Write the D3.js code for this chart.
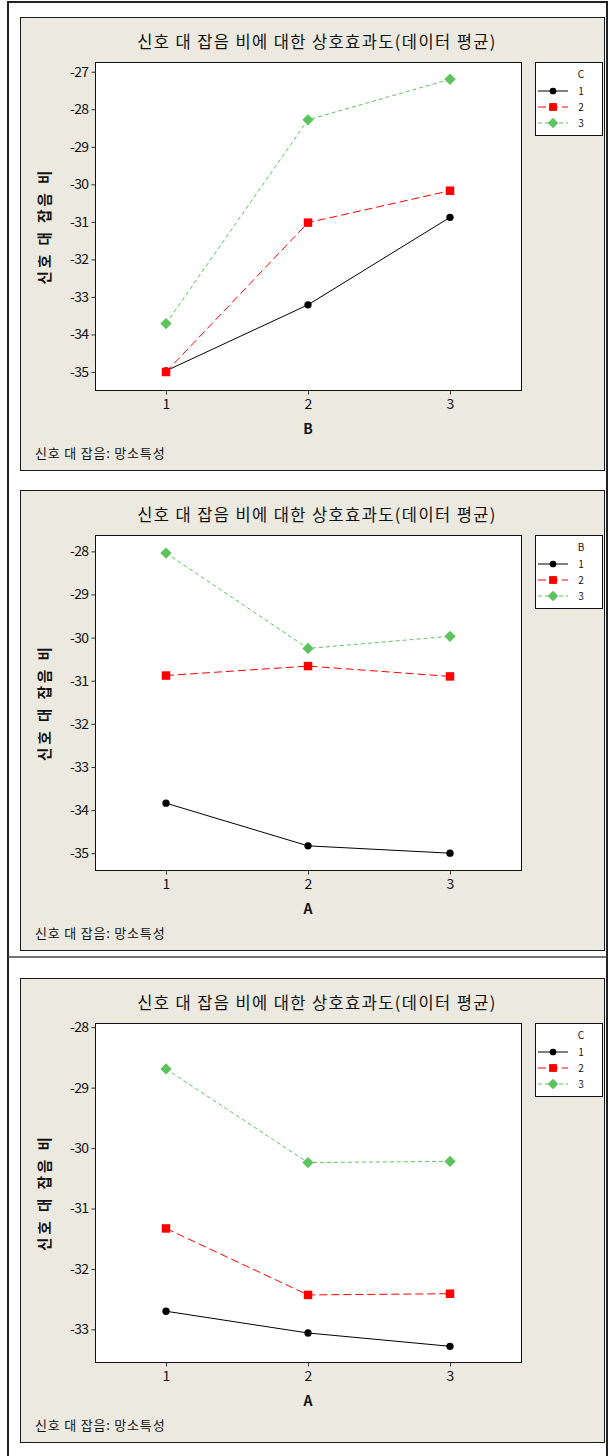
<!DOCTYPE html>
<html>
<head>
<meta charset="utf-8">
<script src="https://cdn.jsdelivr.net/npm/d3@7"></script>
<style>
  html, body { margin: 0; padding: 0; background: #fff; }
  svg { display: block; }
  text { font-family: "Noto Sans CJK KR", "DejaVu Sans", sans-serif; fill: #111; }
</style>
</head>
<body>
<svg id="chart" width="612" height="1456"></svg>
<script>
// Factor levels on the horizontal axis
const levels = [1, 2, 3];
const seriesNames = ["1", "2", "3"];

// Panel 1: B on x, lines by C
const p1C1 = [-34.97, -33.21, -30.88];
const p1C2 = [-35.0, -31.02, -30.17];
const p1C3 = [-33.71, -28.28, -27.2];
const p1Ticks = [-27, -28, -29, -30, -31, -32, -33, -34, -35];

// Panel 2: A on x, lines by B
const p2B1 = [-33.84, -34.83, -35.0];
const p2B2 = [-30.88, -30.66, -30.9];
const p2B3 = [-28.04, -30.25, -29.97];
const p2Ticks = [-28, -29, -30, -31, -32, -33, -34, -35];

// Panel 3: A on x, lines by C
const p3C1 = [-32.70, -33.06, -33.28];
const p3C2 = [-31.33, -32.43, -32.41];
const p3C3 = [-28.69, -30.24, -30.22];
const p3Ticks = [-28, -29, -30, -31, -32, -33];

const titleText = "신호 대 잡음 비에 대한 상호효과도(데이터 평균)";
const yLabelText = "신호 대 잡음 비";
const footText = "신호 대 잡음: 망소특성";

const panels = [
  { top: 17, height: 453, xName: "B", legendName: "C", series: [p1C1, p1C2, p1C3],
    ticks: p1Ticks, yDomain: [-35.48, -26.74] },
  { top: 490, height: 460, xName: "A", legendName: "B", series: [p2B1, p2B2, p2B3],
    ticks: p2Ticks, yDomain: [-35.39, -27.62] },
  { top: 978, height: 464, xName: "A", legendName: "C", series: [p3C1, p3C2, p3C3],
    ticks: p3Ticks, yDomain: [-33.54, -27.93] }
];

// Square turned 45 degrees, as used for the third series
const symbolRhombus = {
  draw(context, size) {
    const r = Math.sqrt(size / 2);
    context.moveTo(0, -r);
    context.lineTo(r, 0);
    context.lineTo(0, r);
    context.lineTo(-r, 0);
    context.closePath();
  }
};

const styles = [
  { color: "#000000", dash: null, shape: d3.symbolCircle, size: 42 },
  { color: "#ff0000", dash: "8,4", shape: d3.symbolSquare, size: 72 },
  { color: "#5cc45c", dash: "4,3", shape: symbolRhombus, size: 64 }
];

const svg = d3.select("#chart");

// Outer table frame
svg.append("path")
  .attr("d", "M8,1456 V2 H607 V1456")
  .attr("fill", "none").attr("stroke", "#222").attr("stroke-width", 2);
svg.append("line")
  .attr("x1", 8).attr("x2", 607).attr("y1", 957).attr("y2", 957)
  .attr("stroke", "#444").attr("stroke-width", 1.5);

panels.forEach(p => {
  const g = svg.append("g");
  const boxL = 20, boxR = 604;

  // Beige graph window
  g.append("rect")
    .attr("x", boxL + 0.5).attr("y", p.top + 0.5)
    .attr("width", boxR - boxL).attr("height", p.height)
    .attr("fill", "#ece9e0").attr("stroke", "#1a1a1a").attr("stroke-width", 1);

  const plotL = 95, plotR = 521;
  const plotT = p.top + 45;
  const plotB = p.top + p.height - 80;

  const x = d3.scaleLinear().domain([0.5, 3.5]).range([plotL, plotR]);
  const y = d3.scaleLinear().domain(p.yDomain).range([plotB, plotT]);

  // Title
  g.append("text")
    .attr("x", 317).attr("y", p.top + 31)
    .attr("text-anchor", "middle")
    .attr("font-size", 16.5).attr("font-weight", 400)
    .style("letter-spacing", "1.4px")
    .text(titleText);

  // Plot area
  g.append("rect")
    .attr("x", plotL + 0.5).attr("y", plotT + 0.5)
    .attr("width", plotR - plotL).attr("height", plotB - plotT)
    .attr("fill", "#fff").attr("stroke", "#111").attr("stroke-width", 1);

  // Axes
  const yAxis = d3.axisLeft(y).tickValues(p.ticks).tickSize(4).tickPadding(3)
    .tickFormat(d => d3.format("d")(d).replace("−", "-"));
  const ya = g.append("g").attr("transform", `translate(${plotL + 0.5},0)`).call(yAxis);
  ya.select(".domain").remove();
  ya.selectAll("text").attr("font-size", 14)
    .attr("fill", "#222").style("letter-spacing", "-0.6px");
  ya.selectAll("line").attr("stroke", "#333");

  const xAxis = d3.axisBottom(x).tickValues(levels).tickSize(4).tickPadding(5)
    .tickFormat(d3.format("d"));
  const xa = g.append("g").attr("transform", `translate(0,${plotB + 0.5})`).call(xAxis);
  xa.select(".domain").remove();
  xa.selectAll("text").attr("font-size", 14).attr("fill", "#222");
  xa.selectAll("line").attr("stroke", "#333");

  // Axis titles
  g.append("text")
    .attr("x", x(2)).attr("y", plotB + 44)
    .attr("text-anchor", "middle").attr("font-size", 14).attr("font-weight", 700)
    .text(p.xName);
  g.append("text")
    .attr("transform", `translate(50,${(plotT + plotB) / 2}) rotate(-90)`)
    .attr("text-anchor", "middle").attr("font-size", 14.5).attr("font-weight", 700)
    .style("letter-spacing", "3px")
    .text(yLabelText);

  // Footer note
  g.append("text")
    .attr("x", 35).attr("y", p.top + p.height - 12)
    .attr("font-size", 13).attr("fill", "#222")
    .style("letter-spacing", "0.8px")
    .text(footText);

  // Series lines and markers
  const line = d3.line().x((d, i) => x(levels[i])).y(d => y(d));
  p.series.forEach((vals, si) => {
    const st = styles[si];
    g.append("path")
      .datum(vals)
      .attr("d", line)
      .attr("fill", "none").attr("stroke", st.color)
      .attr("stroke-width", 1)
      .attr("stroke-dasharray", st.dash);
    g.selectAll(null).data(vals).enter().append("path")
      .attr("d", d3.symbol().type(st.shape).size(st.size))
      .attr("transform", (d, i) => `translate(${x(levels[i])},${y(d)})`)
      .attr("fill", st.color);
  });

  // Legend
  const lgL = 535, lgT = plotT, lgW = 67, lgH = 73;
  const lg = g.append("g");
  lg.append("rect")
    .attr("x", lgL + 0.5).attr("y", lgT + 0.5).attr("width", lgW).attr("height", lgH)
    .attr("fill", "#fff").attr("stroke", "#111");
  lg.append("text")
    .attr("x", 581).attr("y", lgT + 16)
    .attr("text-anchor", "middle").attr("font-size", 10).attr("fill", "#333")
    .text(p.legendName);
  seriesNames.forEach((nm, si) => {
    const st = styles[si];
    const yy = lgT + 29 + si * 16;
    lg.append("line")
      .attr("x1", 538).attr("x2", 568).attr("y1", yy).attr("y2", yy)
      .attr("stroke", st.color).attr("stroke-dasharray", st.dash);
    lg.append("path")
      .attr("d", d3.symbol().type(st.shape).size(st.size * 0.85))
      .attr("transform", `translate(553,${yy})`)
      .attr("fill", st.color);
    lg.append("text")
      .attr("x", 581).attr("y", yy + 4)
      .attr("text-anchor", "middle").attr("font-size", 10).attr("fill", "#333")
      .text(nm);
  });
});
</script>
</body>
</html>
